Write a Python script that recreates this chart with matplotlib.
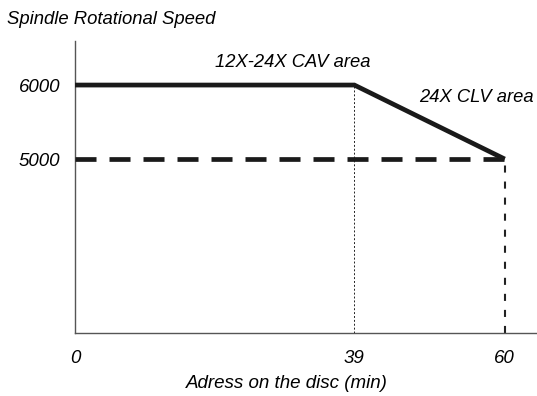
import numpy as np
import matplotlib.pyplot as plt

# speed profile (address in min, rpm)
addr = [0, 39, 60]
speed = [6000, 6000, 5000]
clv_addr = [0, 60]
clv_speed = [5000, 5000]
x_ticks = [0, 39, 60]
y_ticks = [5000, 6000]

plt.rcParams['font.family'] = ['Liberation Sans', 'DejaVu Sans']
plt.rcParams['font.size'] = 13

fig = plt.figure(figsize=(5.37, 3.96), dpi=100)
ax = fig.add_axes([75/537, 1 - 333/396, 1 - 75/537, (333 - 41)/396])

ax.plot(addr, speed, color='#1a1a1a', lw=3.4, solid_capstyle='butt', solid_joinstyle='miter', zorder=3)
ax.plot(clv_addr, clv_speed, color='#1a1a1a', lw=3.4, linestyle=(0, (4.45, 2.75)),
        dash_capstyle='butt', zorder=3)
ax.plot([addr[1], addr[1]], [2650, speed[1]], color='#222222', lw=0.7, linestyle=(0, (2, 2)))
ax.plot([addr[2], addr[2]], [2650, speed[2]], color='#222222', lw=1.5, linestyle=(0, (3.4, 4.3)),
        dash_capstyle='butt')

ax.set_xlim(0, 64.5)
ax.set_ylim(2650, 6595)

for s in ['top', 'right']:
    ax.spines[s].set_visible(False)
for s in ['left', 'bottom']:
    ax.spines[s].set_color('#555555')
    ax.spines[s].set_linewidth(1.0)

ax.set_xticks(x_ticks)
ax.set_xticklabels([str(t) for t in x_ticks], fontstyle='italic', fontsize=13.5)
ax.set_yticks(y_ticks)
ax.set_yticklabels([str(t) for t in y_ticks], fontstyle='italic', fontsize=13.5)
ax.tick_params(axis='x', length=0, pad=12.5)
ax.tick_params(axis='y', length=0, pad=10.5)

fig.text(7/537, 1 - 20/396, 'Spindle Rotational Speed', fontstyle='italic', fontsize=13.3, va='center', ha='left')
fig.text(287/537, 1 - 384/396, 'Adress on the disc (min)', fontstyle='italic', fontsize=13.5, va='center', ha='center')
ax.text(19.6, 6310, '12X-24X CAV area', fontstyle='italic', fontsize=13.2, va='center', ha='left')
ax.text(48.1, 5830, '24X CLV area', fontstyle='italic', fontsize=13.2, va='center', ha='left')

fig.savefig('out.png', dpi=100)
